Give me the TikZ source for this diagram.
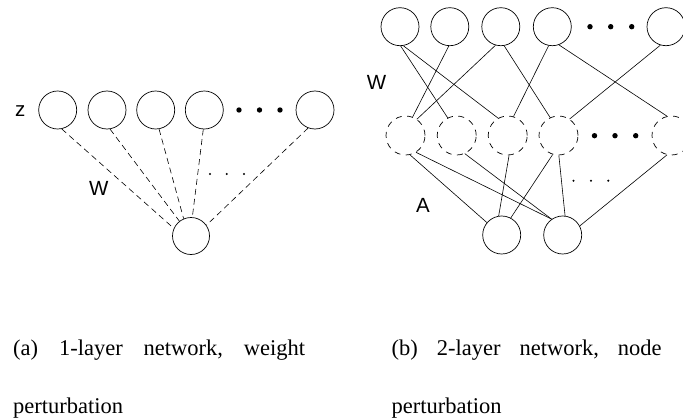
\documentclass[tikz,border=0pt]{standalone}
\usepackage{fontspec}
\setmainfont{Liberation Serif}
\newfontfamily\labelfont{Liberation Sans}
\begin{document}
\begin{tikzpicture}[x=1pt,y=-1pt,
  unit/.style={circle,draw,line width=0.7pt,inner sep=0pt,minimum size=38pt},
  hidden/.style={circle,draw,line width=0.7pt,inner sep=0pt,minimum size=39pt,dash pattern=on 6pt off 5.5pt},
  wline/.style={line width=0.6pt},
  dline/.style={line width=0.6pt,dash pattern=on 6pt off 4pt},
  bigdot/.style={circle,fill,inner sep=0pt,minimum size=5.4pt},
  smalldot/.style={circle,fill,inner sep=0pt,minimum size=2.3pt},
  lab/.style={font=\labelfont\fontsize{20.5}{20.5}\selectfont,anchor=base,inner sep=0pt},
  captext/.style={font=\fontsize{22.5}{22.5}\selectfont,anchor=base west,inner sep=0pt}]
\clip (0,0) rectangle (683,420);
\fill[white] (0,0) rectangle (683,420);
% ---------- (a) ----------
\node[unit] (a1) at (57.7,110) {};
\node[unit] (a2) at (107,110) {};
\node[unit] (a3) at (155.7,110) {};
\node[unit] (a4) at (204.3,110) {};
\node[unit] (a5) at (315,110) {};
\node[bigdot] (ad1) at (239,110) {};
\node[bigdot] (ad2) at (259.5,110) {};
\node[bigdot] (ad3) at (280,110) {};
\node[unit,minimum size=37pt] (ab) at (191,236) {};
\draw[dline] (a1.-78) -- (ab.156);
\draw[dline] (a2.-81) -- (ab.128);
\draw[dline] (a3.-80) -- (ab.113);
\draw[dline] (a4.-93) -- (ab.86);
\draw[dline] (a5.-111) -- (ab.35);
\node[smalldot] (as1) at (210,174) {};
\node[smalldot] (as2) at (226.7,174) {};
\node[smalldot] (as3) at (244,174) {};
\node[lab] (z) at (20.3,116.5) {z};
\node[lab] (wa) at (98.8,195.5) {W};
% ---------- (b) ----------
\node[unit] (t1) at (400,26.7) {};
\node[unit] (t2) at (449.8,26.7) {};
\node[unit] (t3) at (500.8,26.7) {};
\node[unit] (t4) at (552.3,26.7) {};
\node[unit] (t5) at (666,26.7) {};
\node[bigdot] (td1) at (590,26.7) {};
\node[bigdot] (td2) at (610.7,26.7) {};
\node[bigdot] (td3) at (631.7,26.7) {};
\node[hidden] (m1) at (405.5,135.5) {};
\node[hidden] (m2) at (456.7,135.5) {};
\node[hidden] (m3) at (507.7,135.5) {};
\node[hidden] (m4) at (558.5,135.5) {};
\node[hidden] (m5) at (671.5,135.5) {};
\node[bigdot] (md1) at (594.5,135.7) {};
\node[bigdot] (md2) at (615,135.7) {};
\node[bigdot] (md3) at (635.7,135.7) {};
\node[unit] (b1) at (501.7,235) {};
\node[unit] (b2) at (562.7,235) {};
\node[smalldot] (bs1) at (573.5,180.7) {};
\node[smalldot] (bs2) at (591,180.7) {};
\node[smalldot] (bs3) at (608.3,180.7) {};
\draw[wline] (t1.-88) -- (m2.117);
\draw[wline] (t1.-80) -- (m3.119);
\draw[wline] (t2.-93) -- (m1.69);
\draw[wline] (t3.-106) -- (m1.55);
\draw[wline] (t3.-80) -- (m4.115);
\draw[wline] (t4.-101) -- (m3.73);
\draw[wline] (t4.-70) -- (m5.103);
\draw[wline] (t5.-107) -- (m4.56);
\draw[wline] (m1.-77) -- (b1.140);
\draw[wline] (m1.-58) -- (b2.125);
\draw[wline] (m2.-66) -- (b2.125);
\draw[wline] (m3.-86) -- (b1.99);
\draw[wline] (m4.-107) -- (b1.62);
\draw[wline] (m4.-89) -- (b2.83);
\draw[wline] (m5.-103) -- (b2.28);
\node[lab] (wb) at (376.5,89.5) {W};
\node[lab] (ab2) at (423,212.5) {A};
% ---------- captions ----------
\node[captext] (ca1) at (13,355) {\hbox to 292pt{(a)\hfill 1-layer\hfill network,\hfill weight}};
\node[captext] (ca2) at (13,413.3) {perturbation};
\node[captext] (cb1) at (391.5,355) {\hbox to 270pt{(b)\hfill 2-layer\hfill network,\hfill node}};
\node[captext] (cb2) at (391.5,413.3) {perturbation};
\end{tikzpicture}
\end{document}
